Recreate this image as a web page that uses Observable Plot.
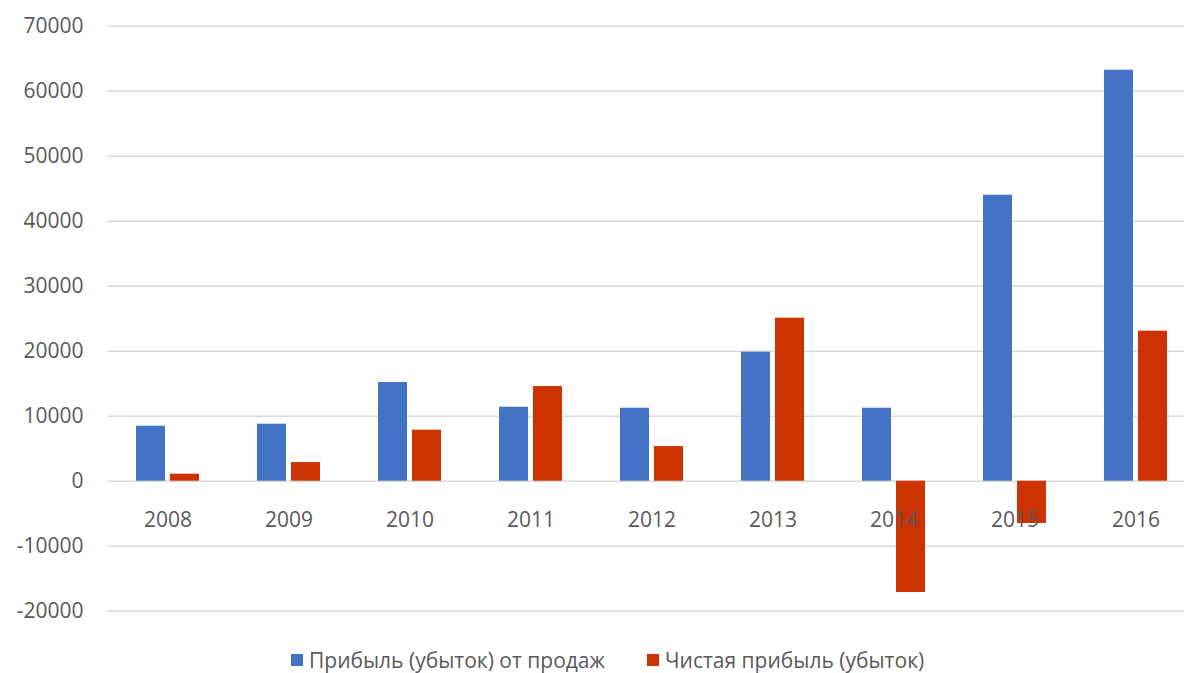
<!DOCTYPE html>
<html>
<head>
<meta charset="utf-8">
<script src="https://cdn.jsdelivr.net/npm/d3@7"></script>
<script src="https://cdn.jsdelivr.net/npm/@observablehq/plot@0.6"></script>
<style>
  html, body { margin: 0; padding: 0; background: #fff; }
  #chart { position: relative; width: 1184px; height: 673px; overflow: hidden; }
  .legend {
    position: absolute; top: 649px; left: 291px;
    display: flex; align-items: center;
    font-family: "Open Sans", sans-serif; font-size: 21px; line-height: 22px; color: #595959;
    white-space: nowrap;
  }
  .legend .item { display: flex; align-items: center; }
  .legend .item + .item { margin-left: 42px; }
  .legend .swatch { width: 12px; height: 12px; margin-right: 6px; }
</style>
</head>
<body>
<div id="chart"></div>
<script>
// Years on the category axis
const years = ["2008", "2009", "2010", "2011", "2012", "2013", "2014", "2015", "2016"];

// Series values (thousand rubles)
const salesProfit = [8460, 8770, 15180, 11380, 11230, 19850, 11230, 44000, 63230];
const netProfit = [1080, 2870, 7850, 14560, 5330, 25080, -17120, -6510, 23080];

const seriesNames = ["Прибыль (убыток) от продаж", "Чистая прибыль (убыток)"];
const seriesColors = ["#4472c4", "#cc3300"];

// Value axis ticks
const yTicks = [-20000, -10000, 0, 10000, 20000, 30000, 40000, 50000, 60000, 70000];

const rows = years.flatMap((year, i) => [
  {year, series: seriesNames[0], value: salesProfit[i]},
  {year, series: seriesNames[1], value: netProfit[i]}
]);

const chart = Plot.plot({
  width: 1184,
  height: 640,
  marginTop: 25.7,
  marginBottom: 29.3,
  marginLeft: 105,
  marginRight: 0,
  style: {fontFamily: "Open Sans, sans-serif", fontSize: "21px", color: "#595959", background: "#fff"},
  fx: {domain: years, range: [104.85, 1197.6], padding: 0, axis: null},
  x: {domain: seriesNames, paddingInner: 0.15, paddingOuter: 0.84, axis: null},
  y: {
    domain: [-20000, 70000],
    ticks: yTicks,
    tickSize: 0,
    tickPadding: 24,
    tickFormat: d => String(d),
    label: null
  },
  color: {domain: seriesNames, range: seriesColors},
  marks: [
    Plot.ruleY(yTicks, {stroke: "#d9d9d9", strokeWidth: 1.5}),
    Plot.barY(rows, {fx: "year", x: "series", y: "value", fill: "series"}),
    Plot.text(years, {fx: d => d, y: 0, dy: 39, text: d => d, fill: "#595959", fontSize: 21})
  ]
});

const root = document.getElementById("chart");
root.appendChild(chart);

// Legend below the chart
const legend = document.createElement("div");
legend.className = "legend";
seriesNames.forEach((name, i) => {
  const item = document.createElement("div");
  item.className = "item";
  const sw = document.createElement("span");
  sw.className = "swatch";
  sw.style.background = seriesColors[i];
  const label = document.createElement("span");
  label.textContent = name;
  item.appendChild(sw);
  item.appendChild(label);
  legend.appendChild(item);
});
root.appendChild(legend);
</script>
</body>
</html>
